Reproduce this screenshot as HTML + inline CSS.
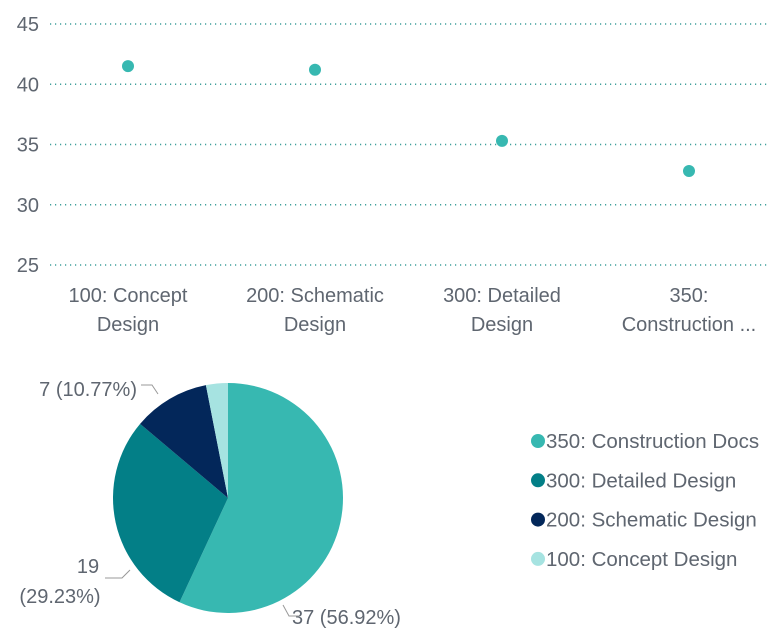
<!DOCTYPE html>
<html><head><meta charset="utf-8"><style>
body{margin:0;background:#fff;width:775px;height:630px;overflow:hidden;font-family:"Liberation Sans",sans-serif}
svg text{font-family:"Liberation Sans",sans-serif}
</style></head><body>
<svg id="c" width="775" height="630"></svg>
<script>
const categories=["100: Concept Design","200: Schematic Design","300: Detailed Design","350: Construction Docs"];
const xLabelLines=[["100: Concept","Design"],["200: Schematic","Design"],["300: Detailed","Design"],["350:","Construction ..."]];
const avgValues=[41.5,41.2,35.3,32.8];
const yTicks=[25,30,35,40,45];
const pieCategories=["350: Construction Docs","300: Detailed Design","200: Schematic Design","100: Concept Design"];
const pieValues=[37,19,7,2];
const pieColors=["#37b8b1","#037f87","#03275a","#a6e3e1"];
const NS="http://www.w3.org/2000/svg";
const svg=document.getElementById('c');
const TC='#5f6670';
function mk(t,a,txt){const e=document.createElementNS(NS,t);for(const k in a)e.setAttribute(k,a[k]);if(txt!==undefined)e.textContent=txt;svg.appendChild(e);return e;}
const y=v=>265-(v-25)*(241/20);
const x=i=>128+i*187;
yTicks.forEach(t=>{
  const l=mk('line',{x1:50,x2:770,y1:y(t),y2:y(t),stroke:'#3f9f9b','stroke-width':1.5,'stroke-dasharray':'1.2 3.8'});
  
  
  const tx=mk('text',{x:39,y:y(t)+7,'text-anchor':'end','font-size':20,fill:TC},t);
  
  
});
avgValues.forEach((v,i)=>{
  const c=mk('circle',{cx:x(i),cy:y(v),r:6,fill:'#37b8b1'});
  
  
  xLabelLines[i].forEach((ln,j)=>{
    const t=mk('text',{x:x(i),y:302+j*29,'text-anchor':'middle','font-size':20,fill:TC,'textLength':0},ln);
    t.removeAttribute('textLength');
    
    
  });
});
const cx=228,cy=498,r=115,total=pieValues.reduce((a,b)=>a+b,0);
let a0=0;
pieValues.forEach((v,i)=>{
  const a1=a0+v/total*2*Math.PI;
  const p=(a)=>[cx+r*Math.sin(a),cy-r*Math.cos(a)];
  const [x0,y0]=p(a0),[x1,y1]=p(a1);
  const s=mk('path',{d:`M${cx},${cy}L${x0},${y0}A${r},${r} 0 ${a1-a0>Math.PI?1:0} 1 ${x1},${y1}Z`,fill:pieColors[i]});
  
  
  a0=a1;
});
const lbl=[['7 (10.77%)',137,396,'end'],['19',88,573,'middle'],['(29.23%)',60,603,'middle'],['37 (56.92%)',292,624,'start']];
lbl.forEach((l,i)=>{const t=mk('text',{x:l[1],y:l[2],'text-anchor':l[3],'font-size':20,fill:TC},l[0]);
  
  });
[['M141,385L152,385L158,394'],['M105,578L122,578L130,570'],['M283,605L289,616L299,616']].forEach((d,i)=>{
  const p=mk('path',{d:d[0],fill:'none',stroke:'#999','stroke-width':1});
  
  });
pieCategories.forEach((c,i)=>{
  const yy=441+i*39.3;
  const d=mk('circle',{cx:538,cy:yy,r:7,fill:pieColors[i]});
  
  
  const t=mk('text',{x:546,y:yy+7,'font-size':20.5,fill:TC},c);
  
  
});
</script>
</body></html>
